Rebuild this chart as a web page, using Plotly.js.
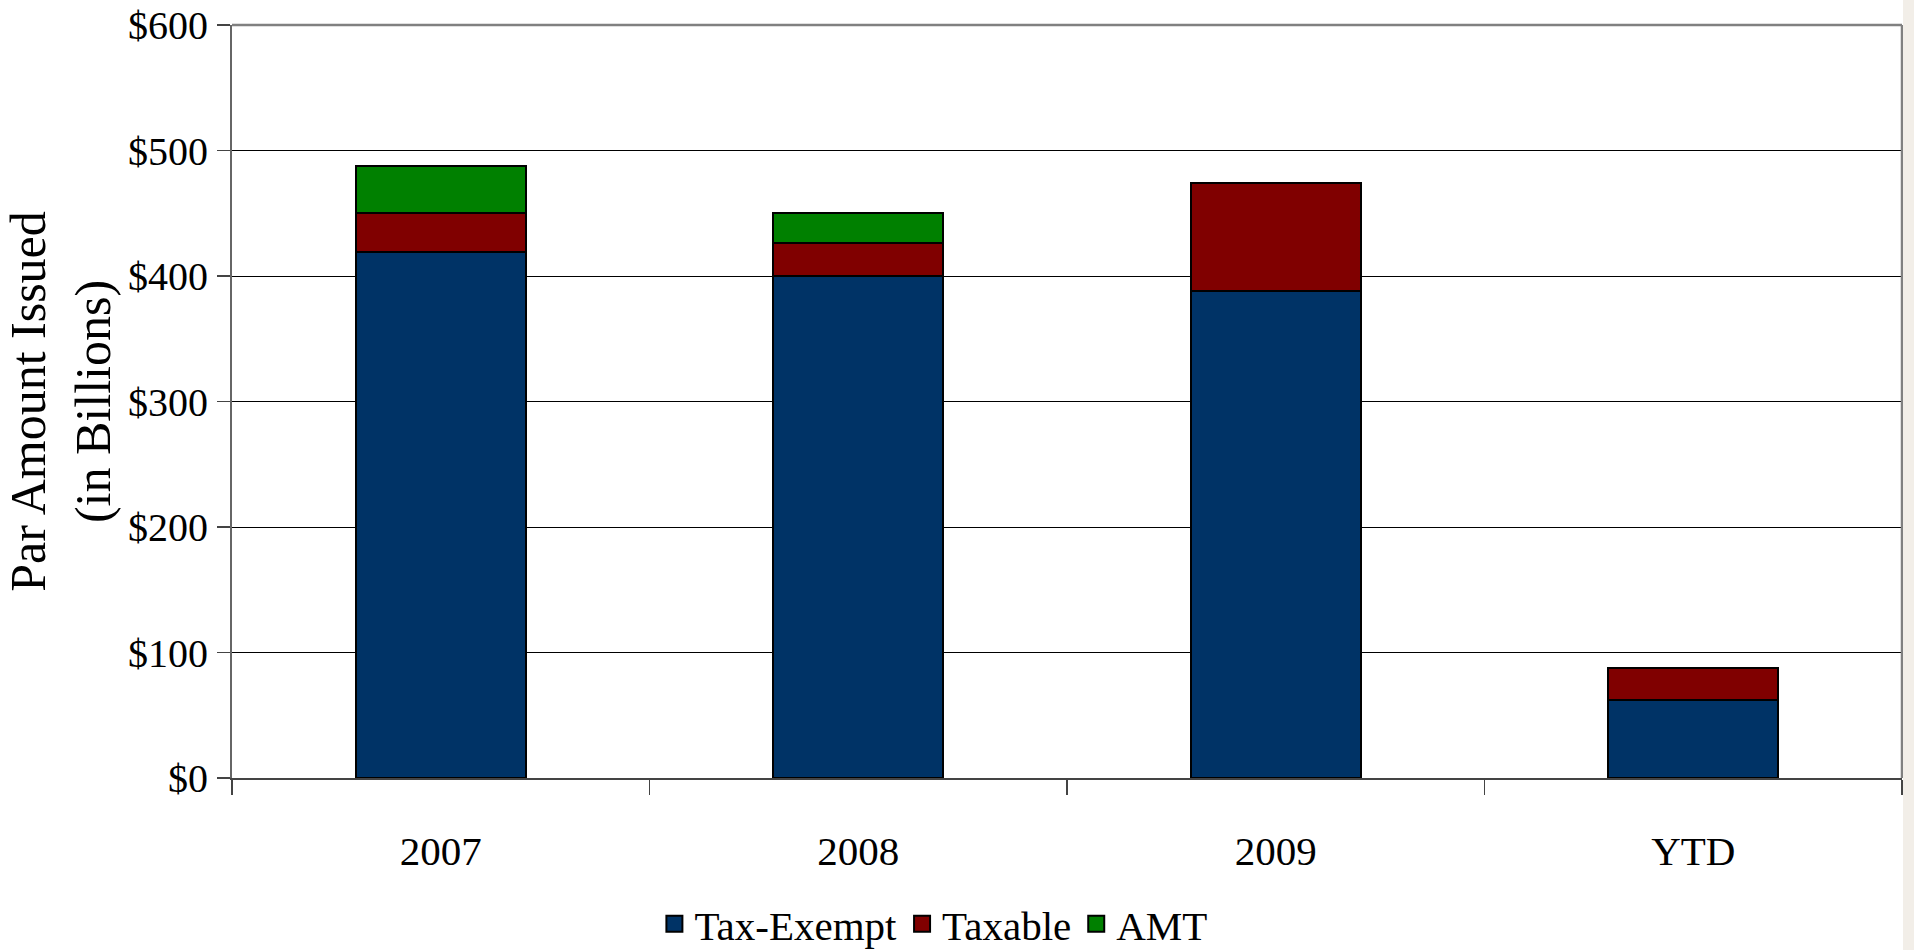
<!DOCTYPE html>
<html>
<head>
<meta charset="utf-8">
<script src="https://cdn.plot.ly/plotly-3.0.1.min.js"></script>
<style>
  html, body { margin: 0; padding: 0; background: #f2eee8; }
  #chart { width: 1903px; height: 950px; background: #ffffff; }
</style>
</head>
<body>
<div id="chart"></div>
<script>
const categories = ['2007', '2008', '2009', 'YTD'];
const taxExempt = [419, 400, 388, 62];
const taxable = [31, 26, 86, 26];
const amt = [38, 24, 0, 0];
const seriesNames = ['Tax-Exempt', 'Taxable', 'AMT'];
const seriesColors = ['#003366', '#800000', '#008000'];
const yTickVals = [0, 100, 200, 300, 400, 500, 600];
const yTickText = ['$0', '$100', '$200', '$300', '$400', '$500', '$600'];

const serifFont = '"Liberation Serif", "Times New Roman", serif';
const seriesValues = [taxExempt, taxable, amt];

const traces = [];
seriesValues.forEach(function (vals, i) {
  traces.push({
    type: 'bar',
    name: seriesNames[i],
    x: categories,
    y: vals,
    marker: { color: seriesColors[i], line: { color: '#000000', width: 2 } },
    showlegend: false,
    hoverinfo: 'x+y+name'
  });
});
// legend-only entries with larger square swatches
seriesNames.forEach(function (name, i) {
  traces.push({
    type: 'scatter',
    mode: 'markers',
    name: name,
    x: [categories[0]],
    y: [null],
    marker: { symbol: 'square', size: 25, color: seriesColors[i], line: { color: '#000000', width: 2 } },
    showlegend: true,
    hoverinfo: 'skip'
  });
});

const layout = {
  width: 1903,
  height: 950,
  barmode: 'stack',
  bargap: 0.593,
  paper_bgcolor: '#ffffff',
  plot_bgcolor: '#ffffff',
  margin: { l: 232, r: 1, t: 25, b: 172, autoexpand: false },
  font: { family: serifFont, color: '#000000', size: 40 },
  showlegend: true,
  legend: {
    orientation: 'h',
    traceorder: 'normal',
    x: 0.42, xanchor: 'center',
    y: -0.194, yanchor: 'middle',
    font: { family: serifFont, size: 41, color: '#000000' },
    itemwidth: 30,
    bgcolor: 'rgba(0,0,0,0)'
  },
  xaxis: {
    type: 'category',
    categoryorder: 'array',
    categoryarray: categories,
    showgrid: false,
    showline: true,
    linecolor: '#444444',
    linewidth: 2,
    ticks: 'outside',
    tickson: 'boundaries',
    ticklen: 15,
    tickwidth: 1.5,
    tickcolor: '#444444',
    ticklabelstandoff: 36,
    tickfont: { family: serifFont, size: 41, color: '#000000' },
    zeroline: false,
    automargin: false,
    fixedrange: true
  },
  yaxis: {
    range: [0, 600],
    tickmode: 'array',
    tickvals: yTickVals,
    ticktext: yTickText,
    showgrid: true,
    gridcolor: '#000000',
    gridwidth: 1,
    showline: true,
    linecolor: '#666666',
    linewidth: 2,
    ticks: 'outside',
    ticklen: 13,
    tickwidth: 1.5,
    tickcolor: '#444444',
    ticklabelstandoff: 1,
    tickfont: { family: serifFont, size: 40, color: '#000000' },
    zeroline: false,
    automargin: false,
    title: {
      text: 'Par Amount Issued<br>(in Billions)',
      font: { family: serifFont, size: 50, color: '#000000' },
      standoff: 22
    },
    fixedrange: true
  },
  shapes: [
    { type: 'line', xref: 'paper', yref: 'paper', x0: 0, x1: 1, y0: 1, y1: 1,
      line: { color: '#808080', width: 2.5 } },
    { type: 'line', xref: 'paper', yref: 'paper', x0: 1, x1: 1, y0: 0, y1: 1,
      line: { color: '#808080', width: 2.5 } }
  ]
};

Plotly.newPlot('chart', traces, layout, { displayModeBar: false, staticPlot: true });
</script>
</body>
</html>
